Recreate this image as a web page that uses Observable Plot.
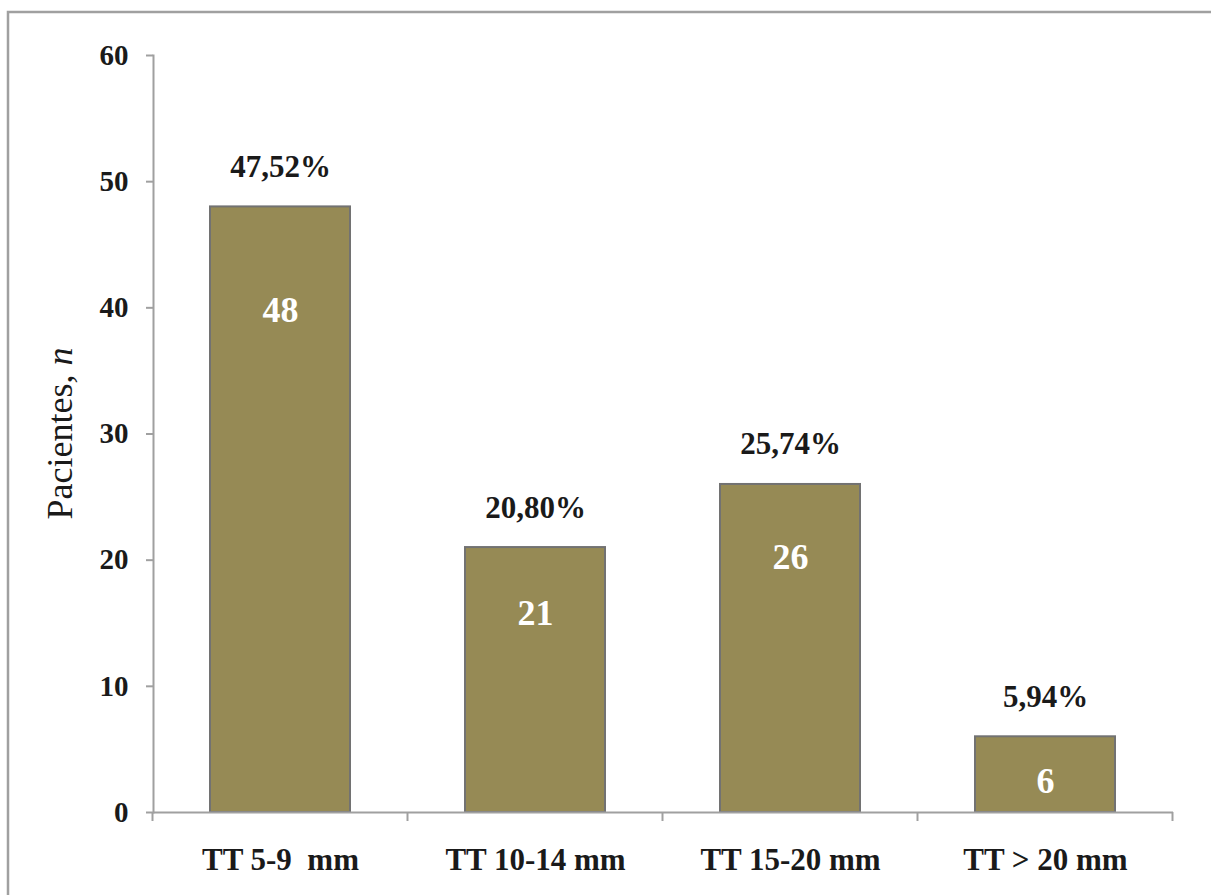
<!DOCTYPE html>
<html>
<head>
<meta charset="utf-8">
<script src="https://cdn.jsdelivr.net/npm/d3@7"></script>
<script src="https://cdn.jsdelivr.net/npm/@observablehq/plot@0.6"></script>
<style>
  html, body { margin: 0; padding: 0; background: #fff; }
  svg text, svg g[aria-label] { font-family: "Liberation Serif", "Times New Roman", serif !important; }
  svg text { white-space: pre; }
</style>
</head>
<body>
<div id="chart"></div>
<script>
// Patients by TT group
const categories = ["TT 5-9  mm", "TT 10-14 mm", "TT 15-20 mm", "TT > 20 mm"];
const patients = [48, 21, 26, 6];
const percentLabels = ["47,52%", "20,80%", "25,74%", "5,94%"];
const yTicks = [0, 10, 20, 30, 40, 50, 60];

const rows = categories.map((cat, i) => ({cat, n: patients[i], pct: percentLabels[i]}));

const serif = "Liberation Serif";
const axisGray = "#a0a0a0";

const chart = Plot.plot({
  width: 1211,
  height: 895,
  marginLeft: 153,
  marginRight: 38,
  marginTop: 55,
  marginBottom: 83,
  style: {fontFamily: serif, background: "#fff", color: "#1a1a1a"},
  x: {domain: categories, paddingInner: 0.45, paddingOuter: 0.225, align: 0.5},
  y: {domain: [0, 60]},
  marks: [
    Plot.barY(rows, {x: "cat", y: "n", fill: "#968a55", stroke: "#727272", strokeWidth: 2}),
    Plot.frame({anchor: "left", stroke: axisGray, strokeWidth: 2}),
    Plot.ruleY([0], {stroke: axisGray, strokeWidth: 2}),
    Plot.axisY({
      ticks: yTicks, tickSize: 7, tickPadding: 18, label: null,
      fontSize: 29, fontWeight: "bold", stroke: axisGray, strokeWidth: 2, fill: "#1a1a1a",
      tickFormat: d => String(d)
    }),
    Plot.axisX({
      tickSize: 0, tickPadding: 35, label: null,
      fontSize: 31, fontWeight: "bold", fill: "#1a1a1a"
    }),
    // percentage above each bar
    Plot.text(rows, {
      x: "cat", y: "n", text: "pct", lineAnchor: "bottom", dy: -30,
      fontSize: 31, fontWeight: "bold", fill: "#1a1a1a"
    }),
    // count inside each bar, a little below the top
    Plot.text(rows, {
      x: "cat", y: d => d.n * 0.89 - 2.9, text: d => String(d.n),
      fontSize: 36, fontWeight: "bold", fill: "#fff"
    })
  ]
});

const svg = d3.select(chart);

// category separators on the x axis
const xs = chart.scale("x");
const gap = (xs.step - xs.bandwidth) / 2;
const bounds = categories.map(c => xs.apply(c) - gap);
bounds.push(xs.apply(categories[categories.length - 1]) + xs.bandwidth + gap);
const y0 = chart.scale("y").apply(0);
svg.append("g")
  .attr("stroke", axisGray)
  .attr("stroke-width", 2)
  .selectAll("line")
  .data(bounds)
  .join("line")
  .attr("x1", d => d).attr("x2", d => d)
  .attr("y1", y0).attr("y2", y0 + 9);

// y axis title with italic n
const title = svg.append("text")
  .attr("transform", `translate(72,${(55 + y0) / 2}) rotate(-90)`)
  .attr("text-anchor", "middle")
  .attr("font-size", 36)
  .attr("fill", "#1a1a1a");
title.append("tspan").text("Pacientes, ");
title.append("tspan").attr("font-style", "italic").text("n");

// outer border
svg.insert("rect", ":first-child")
  .attr("x", 8).attr("y", 12)
  .attr("width", 1220).attr("height", 900)
  .attr("fill", "#fff")
  .attr("stroke", axisGray)
  .attr("stroke-width", 2.5);

document.getElementById("chart").append(chart);
</script>
</body>
</html>
